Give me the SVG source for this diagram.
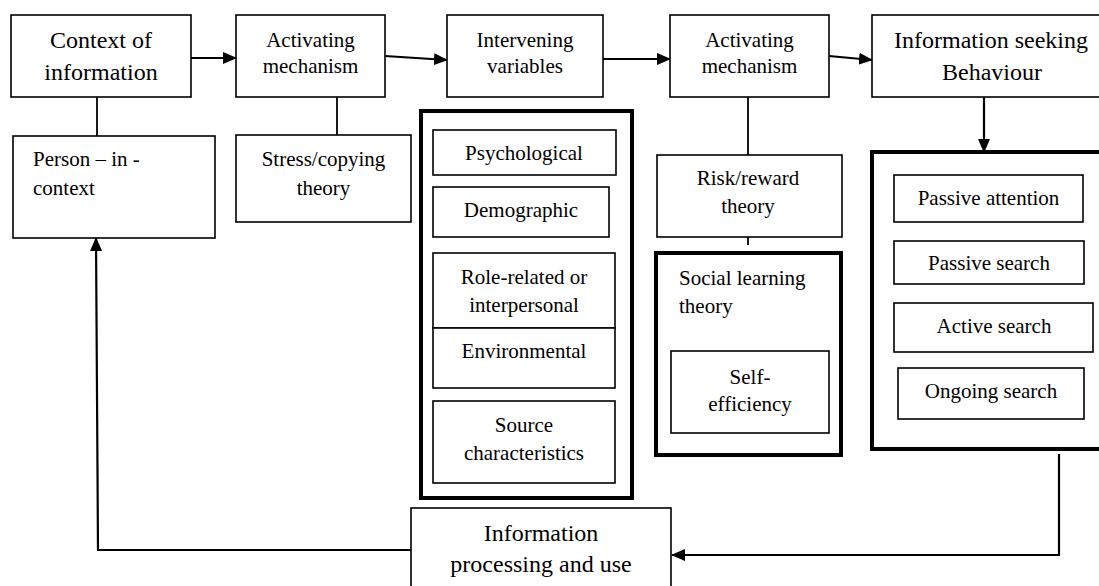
<svg xmlns="http://www.w3.org/2000/svg" width="1099" height="586" viewBox="0 0 1099 586">
<style>
  .box { fill: #ffffff; stroke: #000000; stroke-width: 1.6; }
  .thick { fill: #ffffff; stroke: #000000; stroke-width: 4; }
  .big { font-family: "Liberation Serif", "Times New Roman", serif; font-size: 24px; fill: #000000; }
  .sm { font-family: "Liberation Serif", "Times New Roman", serif; font-size: 21px; fill: #000000; }
  .c { text-anchor: middle; }
  .ln { fill: none; stroke: #000000; stroke-width: 1.8; }
  .arr { fill: none; stroke: #000000; stroke-width: 2.2; marker-end: url(#ah); }
</style>
<defs>
  <marker id="ah" markerUnits="userSpaceOnUse" markerWidth="14" markerHeight="12" refX="13" refY="6" orient="auto">
    <path d="M0,0 L14,6 L0,12 Z" fill="#000000"/>
  </marker>
</defs>
<rect width="1099" height="586" fill="#ffffff"/>

<g id="connectors">
  <line class="ln" x1="97" y1="97" x2="97" y2="136"/>
  <line class="ln" x1="337" y1="97" x2="337" y2="135"/>
  <line class="ln" x1="748" y1="97" x2="748" y2="155"/>
  <line class="ln" x1="748" y1="237" x2="748" y2="245"/>
  <line class="arr" x1="184" y1="58" x2="236" y2="58"/>
  <line class="arr" x1="385" y1="56" x2="447" y2="60"/>
  <line class="arr" x1="603" y1="59" x2="670" y2="59"/>
  <line class="arr" x1="829" y1="56" x2="872" y2="60"/>
  <line class="arr" x1="984" y1="97" x2="984" y2="152"/>
  <path class="arr" d="M1059,454 L1059,555 L672,555"/>
  <path class="arr" d="M411,550 L98,550 L96,238"/>
</g>

<g id="context-of-information">
  <rect class="box" x="11" y="15" width="180" height="82"/>
  <text class="big c" x="101" y="48">Context of</text>
  <text class="big c" x="101" y="80">information</text>
</g>

<g id="activating-mechanism-1">
  <rect class="box" x="236" y="15" width="149" height="82"/>
  <text class="sm c" x="310.5" y="47">Activating</text>
  <text class="sm c" x="310.5" y="73">mechanism</text>
</g>

<g id="intervening-variables">
  <rect class="box" x="447" y="15" width="156" height="82"/>
  <text class="sm c" x="525" y="47">Intervening</text>
  <text class="sm c" x="525" y="73">variables</text>
</g>

<g id="activating-mechanism-2">
  <rect class="box" x="670" y="15" width="159" height="82"/>
  <text class="sm c" x="749.5" y="47">Activating</text>
  <text class="sm c" x="749.5" y="73">mechanism</text>
</g>

<g id="information-seeking-behaviour">
  <rect class="box" x="872" y="15" width="235" height="82"/>
  <text class="big c" x="991" y="48">Information seeking</text>
  <text class="big c" x="992" y="80">Behaviour</text>
</g>

<g id="person-in-context">
  <rect class="box" x="13" y="136" width="202" height="102"/>
  <text class="sm" x="33" y="166">Person – in -</text>
  <text class="sm" x="33" y="195">context</text>
</g>

<g id="stress-coping-theory">
  <rect class="box" x="236" y="135" width="175" height="87"/>
  <text class="sm c" x="323.5" y="166">Stress/copying</text>
  <text class="sm c" x="323.5" y="195">theory</text>
</g>

<g id="intervening-group">
  <rect class="thick" x="421" y="111" width="211" height="387"/>
  <g id="psychological">
    <rect class="box" x="433" y="130" width="183" height="45"/>
    <text class="sm c" x="524" y="160">Psychological</text>
  </g>
  <g id="demographic">
    <rect class="box" x="433" y="187" width="176" height="50"/>
    <text class="sm c" x="521" y="217">Demographic</text>
  </g>
  <g id="role-related">
    <rect class="box" x="433" y="253" width="182" height="75"/>
    <text class="sm c" x="524" y="284">Role-related or</text>
    <text class="sm c" x="524" y="312">interpersonal</text>
  </g>
  <g id="environmental">
    <rect class="box" x="433" y="328" width="182" height="60"/>
    <text class="sm c" x="524" y="358">Environmental</text>
  </g>
  <g id="source-characteristics">
    <rect class="box" x="433" y="401" width="182" height="82"/>
    <text class="sm c" x="524" y="432">Source</text>
    <text class="sm c" x="524" y="460">characteristics</text>
  </g>
</g>

<g id="risk-reward-theory">
  <rect class="box" x="657" y="155" width="185" height="82"/>
  <text class="sm c" x="748" y="185">Risk/reward</text>
  <text class="sm c" x="748" y="213">theory</text>
</g>

<g id="social-learning-theory">
  <rect class="thick" x="656" y="253" width="185" height="202"/>
  <text class="sm" x="679" y="285">Social learning</text>
  <text class="sm" x="679" y="313">theory</text>
  <g id="self-efficiency">
    <rect class="box" x="671" y="351" width="158" height="82"/>
    <text class="sm c" x="750" y="384">Self-</text>
    <text class="sm c" x="750" y="411">efficiency</text>
  </g>
</g>

<g id="seeking-modes">
  <rect class="thick" x="872" y="152" width="240" height="297"/>
  <g id="passive-attention">
    <rect class="box" x="894" y="175" width="189" height="47"/>
    <text class="sm c" x="988.5" y="205">Passive attention</text>
  </g>
  <g id="passive-search">
    <rect class="box" x="894" y="241" width="190" height="43"/>
    <text class="sm c" x="989" y="270">Passive search</text>
  </g>
  <g id="active-search">
    <rect class="box" x="894" y="303" width="199" height="49"/>
    <text class="sm c" x="994" y="333">Active search</text>
  </g>
  <g id="ongoing-search">
    <rect class="box" x="898" y="368" width="186" height="51"/>
    <text class="sm c" x="991" y="398">Ongoing search</text>
  </g>
</g>

<g id="information-processing-and-use">
  <rect class="box" x="411" y="508" width="260" height="90"/>
  <text class="big c" x="541" y="541">Information</text>
  <text class="big c" x="541" y="572">processing and use</text>
</g>
</svg>
